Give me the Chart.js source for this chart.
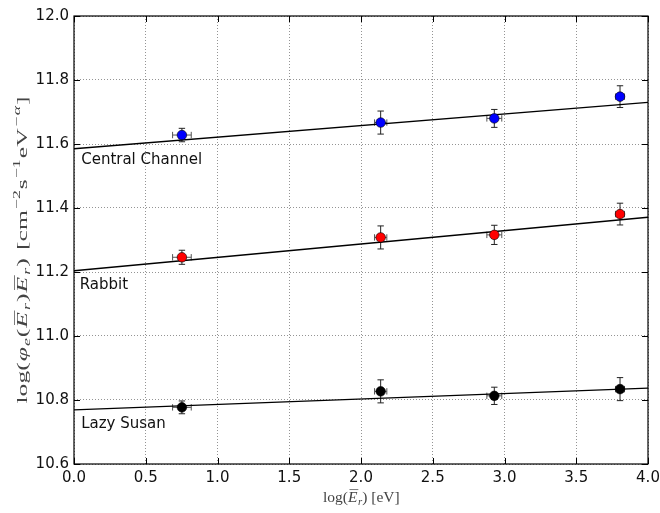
<!DOCTYPE html>
<html><head><meta charset="utf-8">
<script src="https://cdn.jsdelivr.net/npm/chart.js@4.4.0/dist/chart.umd.min.js"></script>
<style>html,body{margin:0;padding:0;background:#fff;}</style>
</head><body>
<canvas id="c" width="660" height="513"></canvas>
<script>
// ---- data ----
const xValues = [0.752, 2.137, 2.929, 3.805];
const xErrors = [0.065, 0.043, 0.052, 0.031];
const centralValues = [11.628, 11.667, 11.680, 11.748];
const centralErrors = [0.021, 0.036, 0.028, 0.034];
const rabbitValues = [11.246, 11.308, 11.316, 11.381];
const rabbitErrors = [0.022, 0.036, 0.030, 0.034];
const lazyValues = [10.777, 10.827, 10.813, 10.834];
const lazyErrors = [0.020, 0.036, 0.027, 0.036];
const fitX = [0, 4];
const centralFit = [11.585, 11.730];
const rabbitFit = [11.204, 11.371];
const lazyFit = [10.769, 10.837];
const seriesNames = ['Central Channel', 'Rabbit', 'Lazy Susan'];
const seriesColors = ['#0000ff', '#ff0000', '#000000'];
const labelX = [0.05, 0.04, 0.05];
const labelY = [11.538, 11.148, 10.714];
const xTicks = [0.0, 0.5, 1.0, 1.5, 2.0, 2.5, 3.0, 3.5, 4.0];
const yTicks = [10.6, 10.8, 11.0, 11.2, 11.4, 11.6, 11.8, 12.0];
// axis titles as (text, style) pieces: n upright, i italic, sub/sup scripts, bar overlined italic
const xTitle = [['log(', 'n'], ['E', 'bar'], ['r', 'sub'], [')', 'n'], [' ', 'n'], ['[eV]', 'n']];
const yTitle = [['log(', 'n'], ['φ', 'i'], ['e', 'sub'], ['(', 'n'], ['E', 'bar'], ['r', 'sub'], [')', 'n'],
  ['E', 'bar'], ['r', 'sub'], [')', 'n'], [' ', 'n'], ['[cm', 'n'], ['−2', 'sup'], ['s', 'n'], ['−1', 'sup'],
  ['eV', 'n'], ['−α', 'sup'], [']', 'n']];

const values = [centralValues, rabbitValues, lazyValues];
const yErrs = [centralErrors, rabbitErrors, lazyErrors];
const fits = [centralFit, rabbitFit, lazyFit];

const datasets = [];
values.forEach((vals, s) => {
  datasets.push({
    type: 'scatter',
    label: seriesNames[s],
    data: xValues.map((x, i) => ({x: x, y: vals[i]})),
    backgroundColor: seriesColors[s],
    borderColor: '#000',
    borderWidth: 0.6,
    pointRadius: 4.8,
    order: 1
  });
});
fits.forEach((f, s) => {
  datasets.push({
    type: 'line',
    label: seriesNames[s] + ' fit',
    data: fitX.map((x, i) => ({x: x, y: f[i]})),
    borderColor: '#000',
    borderWidth: 1.4,
    pointRadius: 0,
    fill: false,
    order: 2
  });
});

function drawMath(ctx, segs, size, cx, cy, rotate, targetWidth, gapEm) {
  const fam = '"Liberation Serif", "DejaVu Serif", serif';
  const parts = segs.map(([t, st]) => {
    const small = (st === 'sub' || st === 'sup');
    const sz = small ? size * 0.7 : size;
    const ital = (st === 'i' || st === 'bar' || st === 'sub' || (st === 'sup' && t.indexOf('α') >= 0));
    const font = (ital ? 'italic ' : '') + sz.toFixed(1) + 'px ' + fam;
    ctx.font = font;
    const w = ctx.measureText(t).width;
    const dy = st === 'sub' ? size * 0.22 : (st === 'sup' ? -size * 0.42 : 0);
    return {t, st, font, w, dy, sz};
  });
  const gap = size * gapEm;
  const W = parts.reduce((a, p) => a + p.w + gap, -gap);
  const sx = targetWidth ? targetWidth / W : 1;
  ctx.save();
  ctx.translate(cx, cy);
  if (rotate) ctx.rotate(-Math.PI / 2);
  ctx.scale(sx, 1);
  ctx.textBaseline = 'alphabetic';
  ctx.textAlign = 'left';
  let x = -W / 2;
  const base = size * 0.32;
  parts.forEach(p => {
    ctx.font = p.font;
    ctx.fillText(p.t, x, base + p.dy);
    if (p.st === 'bar') {
      ctx.save();
      ctx.lineWidth = 0.7;
      ctx.strokeStyle = ctx.fillStyle;
      ctx.beginPath();
      const yb = base - size * 0.8;
      ctx.moveTo(x + size * 0.1, yb);
      ctx.lineTo(x + p.w + size * 0.06, yb);
      ctx.stroke();
      ctx.restore();
    }
    x += p.w + gap + (p.st === 'bar' ? size * 0.04 : 0);
  });
  ctx.restore();
}

const errorBars = {
  id: 'errorBars',
  beforeDatasetsDraw(chart) {
    const {ctx, scales: {x, y}} = chart;
    ctx.save();
    ctx.strokeStyle = '#222';
    ctx.lineWidth = 1;
    const cap = 3.2;
    values.forEach((vals, s) => {
      xValues.forEach((xv, i) => {
        const px = x.getPixelForValue(xv);
        const py = y.getPixelForValue(vals[i]);
        const y1 = y.getPixelForValue(vals[i] + yErrs[s][i]);
        const y2 = y.getPixelForValue(vals[i] - yErrs[s][i]);
        const x1 = x.getPixelForValue(xv - xErrors[i]);
        const x2 = x.getPixelForValue(xv + xErrors[i]);
        ctx.beginPath();
        ctx.moveTo(px, y1); ctx.lineTo(px, y2);
        ctx.moveTo(px - cap, y1); ctx.lineTo(px + cap, y1);
        ctx.moveTo(px - cap, y2); ctx.lineTo(px + cap, y2);
        ctx.stroke();
        ctx.save();
        ctx.strokeStyle = '#555';
        ctx.beginPath();
        ctx.moveTo(x1, py); ctx.lineTo(x2, py);
        ctx.moveTo(x1, py - cap); ctx.lineTo(x1, py + cap);
        ctx.moveTo(x2, py - cap); ctx.lineTo(x2, py + cap);
        ctx.stroke();
        ctx.restore();
      });
    });
    ctx.restore();
  }
};

const frameAndText = {
  id: 'frameAndText',
  afterDraw(chart) {
    const {ctx, chartArea: a, scales: {x, y}} = chart;
    ctx.save();
    ctx.strokeStyle = '#000';
    ctx.lineWidth = 1;
    const t = 6;
    ctx.beginPath();
    xTicks.forEach(v => {
      const px = Math.round(x.getPixelForValue(v)) + 0.5;
      ctx.moveTo(px, a.bottom); ctx.lineTo(px, a.bottom - t);
      ctx.moveTo(px, a.top); ctx.lineTo(px, a.top + t);
    });
    yTicks.forEach(v => {
      const py = Math.round(y.getPixelForValue(v)) + 0.5;
      ctx.moveTo(a.left, py); ctx.lineTo(a.left + t, py);
      ctx.moveTo(a.right, py); ctx.lineTo(a.right - t, py);
    });
    ctx.stroke();
    ctx.lineWidth = 1.2;
    ctx.strokeRect(a.left, a.top, a.right - a.left, a.bottom - a.top);
    ctx.fillStyle = '#111';
    ctx.font = '15px "DejaVu Sans"';
    ctx.textBaseline = 'alphabetic';
    ctx.textAlign = 'left';
    seriesNames.forEach((n, s) => {
      ctx.fillText(n, x.getPixelForValue(labelX[s]), y.getPixelForValue(labelY[s]));
    });
    ctx.fillStyle = '#444';
    drawMath(ctx, xTitle, 15.5, (a.left + a.right) / 2, 497, false, 0, 0);
    drawMath(ctx, yTitle, 15.5, 22, 251, true, 305, 0.04);
    ctx.restore();
  }
};

new Chart(document.getElementById('c'), {
  data: {datasets},
  options: {
    responsive: false,
    animation: false,
    layout: {padding: {top: 16, right: 12, left: 0, bottom: 0}},
    plugins: {legend: {display: false}, tooltip: {enabled: false}},
    scales: {
      x: {
        type: 'linear', min: 0, max: 4,
        afterBuildTicks(scale) { scale.ticks = xTicks.map(v => ({value: v})); },
        afterFit(scale) { scale.height = 49; scale.paddingRight = 0; scale.paddingLeft = 0; },
        ticks: {
          callback: v => v.toFixed(1),
          font: {family: 'DejaVu Sans', size: 15},
          color: '#111', padding: 5, maxRotation: 0, autoSkip: false
        },
        grid: {color: 'rgba(0,0,0,0.42)', lineWidth: 1, drawTicks: false},
        border: {display: false, dash: [1, 2]}
      },
      y: {
        type: 'linear', min: 10.6, max: 12.0,
        afterBuildTicks(scale) { scale.ticks = yTicks.map(v => ({value: v})); },
        afterFit(scale) { scale.width = 74; },
        ticks: {
          callback: v => v.toFixed(1),
          font: {family: 'DejaVu Sans', size: 15},
          color: '#111', padding: 5, autoSkip: false
        },
        grid: {color: 'rgba(0,0,0,0.42)', lineWidth: 1, drawTicks: false},
        border: {display: false, dash: [1, 2]}
      }
    }
  },
  plugins: [errorBars, frameAndText]
});
</script>
</body></html>
